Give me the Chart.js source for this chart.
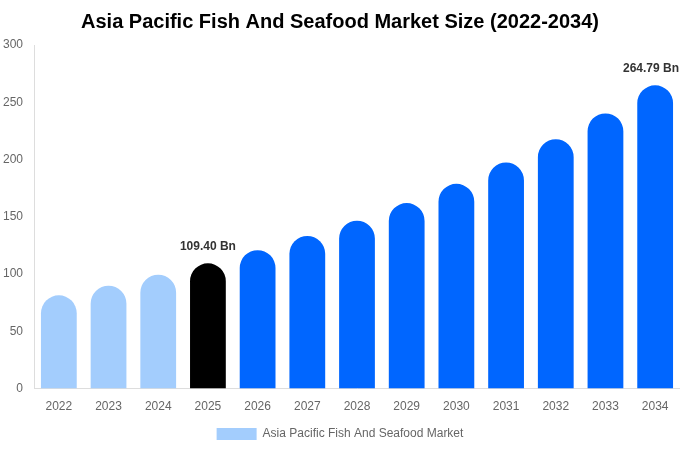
<!DOCTYPE html>
<html lang="en">
<head>
    <meta charset="UTF-8">
    <title>Asia Pacific Fish And Seafood Market Size</title>
    <script src="https://cdn.jsdelivr.net/npm/chart.js"></script>
    <style>
        html, body { margin: 0; padding: 0; background: #fff; }
        #wrap { width: 680px; height: 450px; position: relative; }
    </style>
</head>
<body>
    <div id="wrap"><canvas id="marketChart"></canvas></div>

    <script>
        // Data
        const years = ["2022", "2023", "2024", "2025", "2026", "2027", "2028", "2029", "2030", "2031", "2032", "2033", "2034"];
        const marketSize = [81.4, 89.8, 99.4, 109.40, 120.9, 133.3, 146.6, 162.0, 178.8, 197.4, 217.7, 240.3, 264.79];
        const labelledYears = ["2025", "2034"];
        const barColors = ["#a3cdfd", "#a3cdfd", "#a3cdfd", "#000000", "#0066ff", "#0066ff", "#0066ff", "#0066ff", "#0066ff", "#0066ff", "#0066ff", "#0066ff", "#0066ff"];

        // Draws "xx.xx Bn" above the highlighted bars
        const valueLabels = {
            id: "valueLabels",
            afterDatasetsDraw(chart) {
                const ctx = chart.ctx;
                const meta = chart.getDatasetMeta(0);
                ctx.save();
                ctx.font = "bold 12px 'Liberation Sans', Arial, sans-serif";
                ctx.fillStyle = "#333";
                ctx.textAlign = "center";
                ctx.textBaseline = "bottom";
                years.forEach((y, i) => {
                    if (!labelledYears.includes(y)) return;
                    const bar = meta.data[i];
                    const txt = marketSize[i].toFixed(2) + " Bn";
                    const half = ctx.measureText(txt).width / 2;
                    // keep the label inside the canvas
                    const x = Math.min(bar.x, chart.width - half - 1);
                    ctx.fillText(txt, x, bar.y - 11);
                });
                ctx.restore();
            }
        };

        new Chart(document.getElementById("marketChart"), {
            type: "bar",
            data: {
                labels: years,
                datasets: [{
                    label: "Asia Pacific Fish And Seafood Market",
                    data: marketSize,
                    backgroundColor: barColors,
                    borderRadius: 40,
                    borderSkipped: "start"
                }]
            },
            options: {
                responsive: true,
                maintainAspectRatio: false,
                animation: false,
                layout: { padding: { left: 0, right: 0, top: 0, bottom: 0 } },
                scales: {
                    x: {
                        grid: { display: false, drawTicks: false },
                        border: { color: "#ddd" },
                        ticks: { color: "#666", font: { family: "'Liberation Sans', Arial", size: 12 }, padding: 11 }
                    },
                    y: {
                        min: 0,
                        max: 300,
                        afterFit: (scale) => { scale.width = 34; },
                        grid: { display: false, drawTicks: false },
                        border: { color: "#ddd" },
                        ticks: { stepSize: 50, color: "#666", font: { family: "'Liberation Sans', Arial", size: 12 }, padding: 11 }
                    }
                },
                plugins: {
                    title: {
                        display: true,
                        text: "Asia Pacific Fish And Seafood Market Size (2022-2034)",
                        color: "#000",
                        font: { family: "'Liberation Sans', Arial", size: 20, weight: "bold" },
                        padding: { top: 10, bottom: 11 }
                    },
                    legend: {
                        position: "bottom",
                        labels: {
                            color: "#666",
                            boxWidth: 40,
                            boxHeight: 12,
                            padding: 3,
                            font: { family: "'Liberation Sans', Arial", size: 12 },
                            generateLabels: () => [{
                                text: "Asia Pacific Fish And Seafood Market",
                                fillStyle: "#a3cdfd",
                                strokeStyle: "#a3cdfd",
                                lineWidth: 0,
                                fontColor: "#666"
                            }]
                        }
                    },
                    tooltip: { enabled: false }
                }
            },
            plugins: [valueLabels]
        });
    </script>
</body>
</html>
